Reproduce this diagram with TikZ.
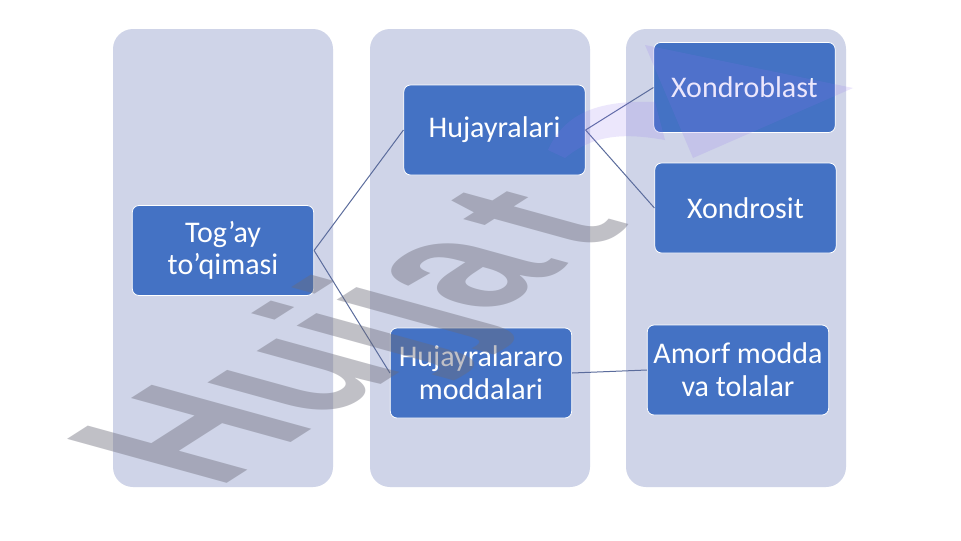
\documentclass[tikz,border=0pt]{standalone}
\usepackage{fontspec}
\setmainfont{Carlito}
\newfontfamily\wmfont{Liberation Sans}
\definecolor{colfill}{HTML}{CFD4E8}
\definecolor{boxblue}{HTML}{4472C4}
\definecolor{linkc}{HTML}{5B6C9C}
\definecolor{wmgray}{HTML}{6B6B78}
\definecolor{purp}{HTML}{8B6CF0}
\begin{document}
\begin{tikzpicture}[x=0.75pt,y=-0.75pt,
  colbox/.style={fill=colfill, rounded corners=15pt},
  item/.style={fill=boxblue, draw=white, line width=0.6pt, rounded corners=5pt,
    text=white, font=\fontsize{22.5}{24.5}\selectfont, align=center,
    minimum width=136pt, minimum height=67.5pt, inner sep=2pt},
  link/.style={draw=linkc, line width=0.75pt},
  wmark/.style={transform shape, anchor=base west, inner sep=0pt, text=wmgray,
    text opacity=0.42, font=\wmfont\bfseries\fontsize{100}{100}\selectfont}]
\useasboundingbox (0,0) rectangle (961,540);
\fill[white] (0,0) rectangle (961,540);
% columns
\fill[colbox] (113,29) rectangle (333,487);
\fill[colbox] (370,29) rectangle (590,487);
\fill[colbox] (626,29) rectangle (846,487);
% boxes
\node[item] (tog) at (223,250.5) {Tog’ay\\to’qimasi};
\node[item] (huj) at (494.5,130) {Hujayralari};
\node[item] (hujm) at (481,373) {Hujayralararo\\moddalari};
\node[item] (xb) at (744.5,87.5) {Xondroblast};
\node[item] (xs) at (745.5,208) {Xondrosit};
\node[item] (am) at (738,370) {Amorf modda\\va tolalar};
% connectors
\draw[link] (tog.east) -- (huj.west);
\draw[link] (tog.east) -- (hujm.west);
\draw[link] (huj.east) -- (xb.west);
\draw[link] (huj.east) -- (xs.west);
\draw[link] (hujm.east) -- (am.west);
% watermark
\begin{scope}[cm={1.08,0.69,-1.74,0.48,(217.4,489.2)}]
  \node[wmark] (wm) at (0,0) {Hujja\kern0.1em t};
\end{scope}
\fill[purp, fill opacity=0.16]
  (853,88) -- (645,45) -- (693,158) -- cycle
  (548,150) .. controls (565,112) and (600,100) .. (655,102) -- (665,140)
  .. controls (620,132) and (592,136) .. (565,158) -- cycle;
\end{tikzpicture}
\end{document}
